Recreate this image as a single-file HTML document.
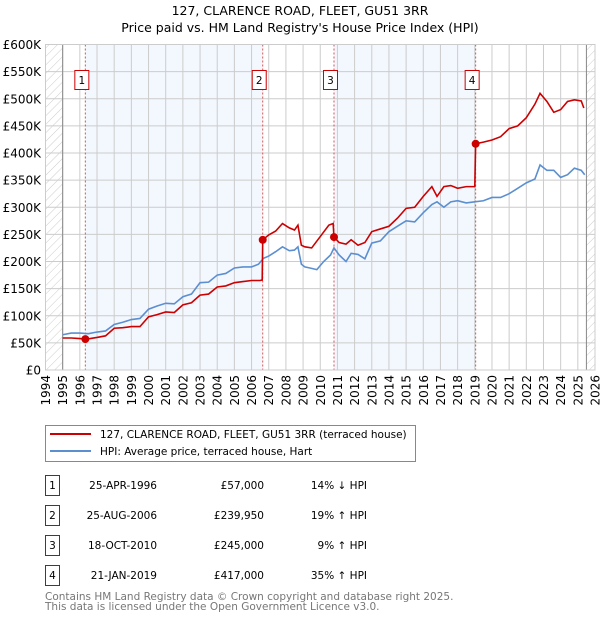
<!DOCTYPE html>
<html><head><meta charset="utf-8"><style>
body{margin:0;background:#fff;font-family:"DejaVu Sans","Liberation Sans",sans-serif;}
svg text{font-family:"DejaVu Sans","Liberation Sans",sans-serif;}
</style></head><body>
<svg id="chart" width="600" height="620" viewBox="0 0 600 620" xmlns="http://www.w3.org/2000/svg">
<defs><pattern id="hatch" width="6" height="6" patternUnits="userSpaceOnUse" patternTransform="rotate(45)"><line x1="0" y1="0" x2="0" y2="6" stroke="#ccc" stroke-width="1"/></pattern></defs>
<text x="300" y="15" text-anchor="middle" font-size="12.5">127, CLARENCE ROAD, FLEET, GU51 3RR</text>
<text x="300" y="32" text-anchor="middle" font-size="12.5">Price paid vs. HM Land Registry's House Price Index (HPI)</text>
<g id="plot"></g>
<g>
<rect x="45.5" y="425.5" width="370" height="36" fill="#fff" stroke="#888"/>
<line x1="50" y1="434" x2="91" y2="434" stroke="#cc0000" stroke-width="2"/>
<text x="100" y="438" font-size="10.5">127, CLARENCE ROAD, FLEET, GU51 3RR (terraced house)</text>
<line x1="50" y1="451" x2="91" y2="451" stroke="#5b8fd0" stroke-width="2"/>
<text x="100" y="455" font-size="10.5">HPI: Average price, terraced house, Hart</text>
</g>
<g id="table" font-size="10.5"></g>
<text x="45" y="600" font-size="10.5" fill="#777">Contains HM Land Registry data © Crown copyright and database right 2025.</text>
<text x="45" y="610" font-size="10.5" fill="#777">This data is licensed under the Open Government Licence v3.0.</text>
</svg>
<script>
const yTicks=[0,50,100,150,200,250,300,350,400,450,500,550,600];
const yTickLabels=["£0","£50K","£100K","£150K","£200K","£250K","£300K","£350K","£400K","£450K","£500K","£550K","£600K"];
const years=[1994,1995,1996,1997,1998,1999,2000,2001,2002,2003,2004,2005,2006,2007,2008,2009,2010,2011,2012,2013,2014,2015,2016,2017,2018,2019,2020,2021,2022,2023,2024,2025,2026];
const hpiDates=[1995.0,1995.5,1996.0,1996.5,1997.0,1997.5,1998.0,1998.5,1999.0,1999.5,2000.0,2000.5,2001.0,2001.5,2002.0,2002.5,2003.0,2003.5,2004.0,2004.5,2005.0,2005.5,2006.0,2006.4,2006.7,2007.0,2007.4,2007.8,2008.2,2008.5,2008.7,2008.9,2009.1,2009.4,2009.8,2010.2,2010.6,2010.8,2011.1,2011.5,2011.8,2012.2,2012.6,2013.0,2013.5,2014.0,2014.5,2015.0,2015.5,2016.0,2016.5,2016.8,2017.2,2017.6,2018.0,2018.5,2019.0,2019.5,2020.0,2020.5,2021.0,2021.5,2022.0,2022.5,2022.8,2023.2,2023.6,2024.0,2024.4,2024.8,2025.2,2025.4];
const hpiValues=[65,68,68,67,70,72,84,88,93,95,112,118,123,122,135,140,161,162,175,178,188,190,190,195,206,210,218,227,220,221,227,195,190,188,185,200,212,225,212,200,215,213,205,234,238,255,265,275,273,290,305,310,300,310,312,308,310,312,318,318,325,335,345,352,378,368,368,355,360,372,368,360];
const priceDates=[1995.0,1995.5,1996.0,1996.3,1996.6,1997.0,1997.5,1998.0,1998.5,1999.0,1999.5,2000.0,2000.5,2001.0,2001.5,2002.0,2002.5,2003.0,2003.5,2004.0,2004.5,2005.0,2005.5,2006.0,2006.5,2006.62,2006.65,2007.0,2007.4,2007.8,2008.2,2008.5,2008.7,2008.9,2009.1,2009.5,2010.0,2010.5,2010.75,2010.8,2011.1,2011.5,2011.8,2012.2,2012.6,2013.0,2013.5,2014.0,2014.5,2015.0,2015.5,2016.0,2016.5,2016.8,2017.2,2017.6,2018.0,2018.5,2019.0,2019.05,2019.5,2020.0,2020.5,2021.0,2021.5,2022.0,2022.5,2022.8,2023.2,2023.6,2024.0,2024.4,2024.8,2025.2,2025.35];
const priceValues=[59,59,58,57,58,60,63,77,78,80,80,98,102,107,106,120,124,138,140,153,155,161,163,165,165,166,239.95,249,256,270,262,258,267,230,227,225,246,267,270,245,235,232,240,230,235,255,260,265,280,298,300,320,338,320,338,340,335,338,338,417,420,424,430,445,450,465,490,510,495,475,480,495,498,496,483];
const saleIds=["1","2","3","4"];
const saleDates=[1996.32,2006.65,2010.8,2019.05];
const salePrices=[57,239.95,245,417];
const saleDateLabels=["25-APR-1996","25-AUG-2006","18-OCT-2010","21-JAN-2019"];
const salePriceLabels=["£57,000","£239,950","£245,000","£417,000"];
const saleHpiLabels=["14% ↓ HPI","19% ↑ HPI","9% ↑ HPI","35% ↑ HPI"];

const X0=45.5,X1=595,Y0=370,Y1=44.5;
const xs=t=>X0+(t-1994)/(2026-1994)*(X1-X0);
const ys=v=>Y0-(v/600)*(Y0-Y1);
const NS="http://www.w3.org/2000/svg";
const plot=document.getElementById('plot');
function mk(tag,attrs,parent){const e=document.createElementNS(NS,tag);for(const k in attrs)e.setAttribute(k,attrs[k]);(parent||plot).appendChild(e);return e;}

let bg=mk('rect',{x:X0,y:Y1,width:X1-X0,height:Y0-Y1,fill:'#fff'});


for(let i=0;i<2;i++){
  let s=mk('rect',{x:xs(saleDates[i*2]),y:Y1,width:xs(saleDates[i*2+1])-xs(saleDates[i*2]),height:Y0-Y1,fill:'#f3f7fe'});
  
  
}
let h1=mk('rect',{x:X0,y:Y1,width:xs(1995)-X0,height:Y0-Y1,fill:'url(#hatch)'});


let h2=mk('rect',{x:xs(2025.5),y:Y1,width:X1-xs(2025.5),height:Y0-Y1,fill:'url(#hatch)'});


yTicks.forEach((v,i)=>{
  let g=mk('line',{x1:X0,x2:X1,y1:ys(v),y2:ys(v),stroke:'#ccc','stroke-width':1});
  
  
  let t=mk('text',{x:41,y:ys(v)+4.5,'text-anchor':'end','font-size':12});
  t.textContent=yTickLabels[i];
  
  
});
years.forEach(yr=>{
  let g=mk('line',{x1:xs(yr),x2:xs(yr),y1:Y1,y2:Y0,stroke:'#ccc','stroke-width':1});
  
  
  let t=mk('text',{x:0,y:0,'text-anchor':'end','font-size':12,transform:`translate(${xs(yr)+4.5},375) rotate(-90)`});
  t.textContent=yr;
  
  
});
let v1=mk('line',{x1:xs(1995),x2:xs(1995),y1:Y1,y2:Y0,stroke:'#888'});


let v2=mk('line',{x1:xs(2025.5),x2:xs(2025.5),y1:Y1,y2:Y0,stroke:'#888'});


saleDates.forEach((d,i)=>{
  let l=mk('line',{x1:xs(d),x2:xs(d),y1:Y1,y2:Y0,stroke:'#e05050','stroke-dasharray':'2,2','stroke-width':1});
  
  
  let b=mk('rect',{x:xs(d)-10.5,y:70.5,width:14,height:19,fill:'#fff',stroke:'#cc0000'});
  
  
  let t=mk('text',{x:xs(d)-3.5,y:84,'text-anchor':'middle','font-size':10.5});
  t.textContent=saleIds[i];
  
  
});
let hp=mk('polyline',{points:hpiDates.map((d,i)=>xs(d)+','+ys(hpiValues[i])).join(' '),fill:'none',stroke:'#5b8fd0','stroke-width':1.6});


let pp=mk('polyline',{points:priceDates.map((d,i)=>xs(d)+','+ys(priceValues[i])).join(' '),fill:'none',stroke:'#cc0000','stroke-width':1.6});


saleDates.forEach((d,i)=>{
  let c=mk('circle',{cx:xs(d),cy:ys(salePrices[i]),r:4,fill:'#cc0000'});
  
  
});
let fr=mk('rect',{x:X0,y:Y1,width:X1-X0,height:Y0-Y1,fill:'none',stroke:'#ccc'});



const tbl=document.getElementById('table');
saleIds.forEach((id,i)=>{
  const y=489+i*30;
  let b=mk('rect',{x:45.5,y:y-13.5,width:14,height:20,fill:'#fff',stroke:'#cc0000'},tbl);
  
  
  let t0=mk('text',{x:52.5,y:y,'text-anchor':'middle'},tbl);t0.textContent=id;
  
  
  let t1=mk('text',{x:157,y:y,'text-anchor':'end'},tbl);t1.textContent=saleDateLabels[i];
  
  
  let t2=mk('text',{x:264,y:y,'text-anchor':'end'},tbl);t2.textContent=salePriceLabels[i];
  
  
  let t3=mk('text',{x:367,y:y,'text-anchor':'end'},tbl);t3.textContent=saleHpiLabels[i];
  
  
});
</script>
</body></html>
